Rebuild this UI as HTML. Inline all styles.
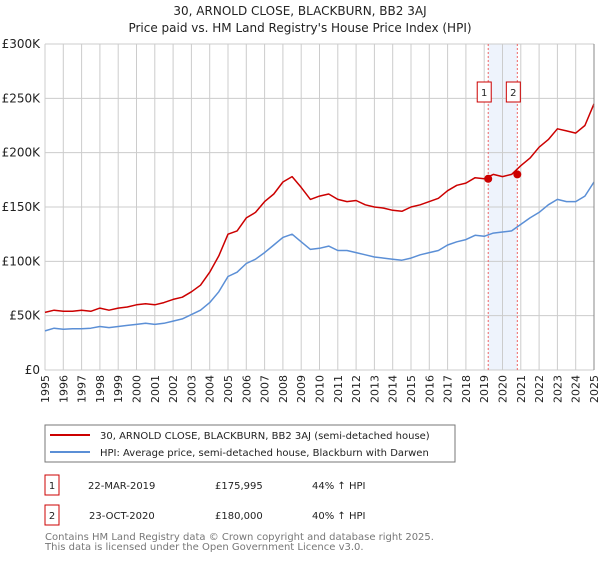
<!DOCTYPE html>
<html><head><meta charset="utf-8"><style>
body{margin:0;background:#fff;font-family:"DejaVu Sans","Liberation Sans",sans-serif;}
svg text{font-family:"DejaVu Sans","Liberation Sans",sans-serif;}
</style></head><body>
<svg id="c" width="600" height="560" xmlns="http://www.w3.org/2000/svg">
<text x="300" y="15" text-anchor="middle" font-size="12" fill="#222">30, ARNOLD CLOSE, BLACKBURN, BB2 3AJ</text>
<text x="300" y="32" text-anchor="middle" font-size="12" fill="#222">Price paid vs. HM Land Registry's House Price Index (HPI)</text>
<g id="grid"></g><g id="series"></g><g id="axes"></g>
<rect x="45" y="425" width="410" height="37" fill="#fff" stroke="#777"/>
<line x1="50" y1="435" x2="90" y2="435" stroke="#cc0000" stroke-width="2"/>
<text x="100" y="439" font-size="10" fill="#222">30, ARNOLD CLOSE, BLACKBURN, BB2 3AJ (semi-detached house)</text>
<line x1="50" y1="452" x2="90" y2="452" stroke="#5b8fd6" stroke-width="2"/>
<text x="100" y="456" font-size="10" fill="#222">HPI: Average price, semi-detached house, Blackburn with Darwen</text>
<rect x="45" y="475" width="14" height="20" fill="#fff" stroke="#cc0000"/>
<text x="52" y="489" font-size="10" text-anchor="middle" fill="#222">1</text>
<text x="88" y="489" font-size="10" fill="#222">22-MAR-2019</text>
<text x="215" y="489" font-size="10" fill="#222">£175,995</text>
<text x="312" y="489" font-size="10" fill="#222">44% ↑ HPI</text>
<rect x="45" y="505" width="14" height="20" fill="#fff" stroke="#cc0000"/>
<text x="52" y="519" font-size="10" text-anchor="middle" fill="#222">2</text>
<text x="89" y="519" font-size="10" fill="#222">23-OCT-2020</text>
<text x="215" y="519" font-size="10" fill="#222">£180,000</text>
<text x="312" y="519" font-size="10" fill="#222">40% ↑ HPI</text>
<text x="45" y="540" font-size="10" fill="#777">Contains HM Land Registry data © Crown copyright and database right 2025.</text>
<text x="45" y="550" font-size="10" fill="#777">This data is licensed under the Open Government Licence v3.0.</text>
</svg>
<script>
const years=[1995,1996,1997,1998,1999,2000,2001,2002,2003,2004,2005,2006,2007,2008,2009,2010,2011,2012,2013,2014,2015,2016,2017,2018,2019,2020,2021,2022,2023,2024,2025];
const yTicks=[0,50000,100000,150000,200000,250000,300000];
const yTickLabels=["£0","£50K","£100K","£150K","£200K","£250K","£300K"];
const seriesTimes=[1995,1995.5,1996,1996.5,1997,1997.5,1998,1998.5,1999,1999.5,2000,2000.5,2001,2001.5,2002,2002.5,2003,2003.5,2004,2004.5,2005,2005.5,2006,2006.5,2007,2007.5,2008,2008.5,2009,2009.5,2010,2010.5,2011,2011.5,2012,2012.5,2013,2013.5,2014,2014.5,2015,2015.5,2016,2016.5,2017,2017.5,2018,2018.5,2019,2019.5,2020,2020.5,2021,2021.5,2022,2022.5,2023,2023.5,2024,2024.5,2025];
const hpiValues=[36,38.5,37.5,38,38,38.5,40,39,40,41,42,43,42,43,45,47,51,55,62,72,86,90,98,102,108,115,122,125,118,111,112,114,110,110,108,106,104,103,102,101,103,106,108,110,115,118,120,124,123,126,127,128,134,140,145,152,157,155,155,160,173];
const priceValues=[53,55,54,54,55,54,57,55,57,58,60,61,60,62,65,67,72,78,90,105,125,128,140,145,155,162,173,178,168,157,160,162,157,155,156,152,150,149,147,146,150,152,155,158,165,170,172,177,176,180,178,180,188,195,205,212,222,220,218,225,245];
const saleTimes=[2019.22,2020.81];
const salePrices=[175995,180000];
const saleLabels=["1","2"];
const NS="http://www.w3.org/2000/svg";
const X0=45,X1=594,Y0=370,Y1=44;
const xs=t=>X0+(t-1995)/30*(X1-X0);
const ys=v=>Y0-v/300000*(Y0-Y1);
function mk(tag,attrs,parent){const e=document.createElementNS(NS,tag);for(const k in attrs)e.setAttribute(k,attrs[k]);parent.appendChild(e);return e;}
const grid=document.getElementById('grid'),ser=document.getElementById('series'),ax=document.getElementById('axes');
const band=mk('rect',{x:xs(saleTimes[0]),y:Y1,width:xs(saleTimes[1])-xs(saleTimes[0]),height:Y0-Y1,fill:'#eef3fc'},grid);


years.forEach(y=>{
  const l=mk('line',{x1:xs(y),x2:xs(y),y1:Y1,y2:Y0,stroke:'#ccc','stroke-width':1},grid);
  
  
  const t=mk('text',{x:0,y:0,'font-size':11,fill:'#222','text-anchor':'end',transform:`translate(${xs(y)+4},${Y0+5}) rotate(-90)`},ax);
  t.textContent=y;
  
  
});
yTicks.forEach((v,i)=>{
  const l=mk('line',{x1:X0,x2:X1,y1:ys(v),y2:ys(v),stroke:'#ccc','stroke-width':1},grid);
  
  
  const t=mk('text',{x:40,y:ys(v)+4,'font-size':12,fill:'#222','text-anchor':'end'},ax);
  t.textContent=yTickLabels[i];
  
  
});
saleTimes.forEach((t,i)=>{
  const l=mk('line',{x1:xs(t),x2:xs(t),y1:Y1,y2:Y0,stroke:'#e66','stroke-width':1,'stroke-dasharray':'2,2'},grid);
  
  
});
const rl=mk('line',{x1:X1,x2:X1,y1:Y1,y2:Y0,stroke:'#888','stroke-width':1},ax);


function path(vals,color,name){
  const d=vals.map((v,i)=>(i?'L':'M')+xs(seriesTimes[i]).toFixed(1)+','+ys(v*1000).toFixed(1)).join('');
  const p=mk('path',{d,fill:'none',stroke:color,'stroke-width':1.5,'stroke-linejoin':'round'},ser);
  
  
}
path(hpiValues,'#5b8fd6','hpi-line');
path(priceValues,'#cc0000','price-line');
saleTimes.forEach((t,i)=>{
  const c=mk('circle',{cx:xs(t),cy:ys(salePrices[i]),r:4,fill:'#cc0000'},ser);
  
  
  const r=mk('rect',{x:xs(t)-11,y:82,width:14,height:20,fill:'#fff',stroke:'#cc0000'},ser);
  
  
  const tx=mk('text',{x:xs(t)-4,y:96,'font-size':10,'text-anchor':'middle',fill:'#222'},ser);
  tx.textContent=saleLabels[i];
  
  
});
</script>
</body></html>
